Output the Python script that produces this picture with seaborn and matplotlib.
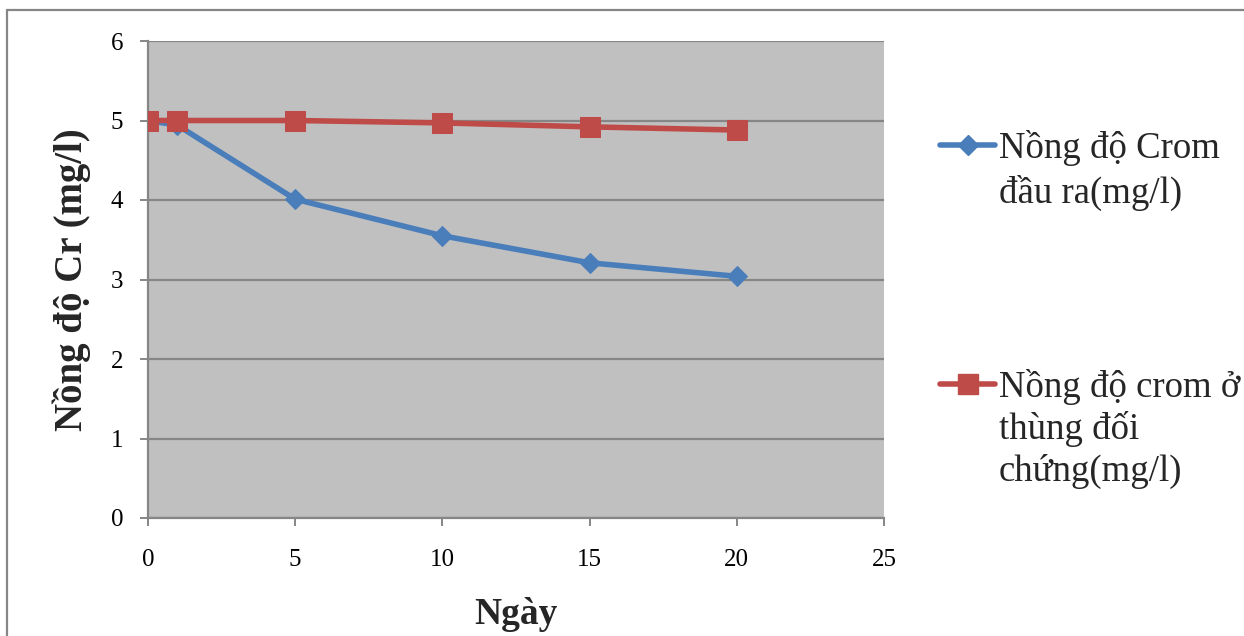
import matplotlib
matplotlib.use("Agg")
import matplotlib.pyplot as plt
from matplotlib.lines import Line2D
import seaborn as sns
import pandas as pd

# ---- data ----
days = [0, 1, 5, 10, 15, 20]
cr_out = [5.0, 4.94, 4.01, 3.55, 3.21, 3.04]
cr_control = [5.0, 5.0, 5.0, 4.97, 4.92, 4.88]
label_out = ["Nồng độ Crom", "đầu ra(mg/l)"]
label_control = ["Nồng độ crom ở", "thùng đối", "chứng(mg/l)"]
x_ticks = [0, 5, 10, 15, 20, 25]
y_ticks = [0, 1, 2, 3, 4, 5, 6]
x_label = "Ngày"
y_label = "Nồng độ Cr (mg/l)"

BLUE = "#4A7EBB"
RED = "#BE4B48"
GRAY = "#868686"
BG = "#C0C0C0"

sns.set_style("white")
plt.rcParams["font.family"] = ["Liberation Serif", "DejaVu Serif"]

W, H = 1244, 636
fig = plt.figure(figsize=(W / 100, H / 100), dpi=100)
ax = fig.add_axes([148 / W, 1 - 518 / H, (884 - 148) / W, (518 - 41) / H])
ax.set_facecolor(BG)

df_out = pd.DataFrame({"day": days, "value": cr_out})
df_ctl = pd.DataFrame({"day": days, "value": cr_control})

sns.lineplot(data=df_out, x="day", y="value", ax=ax, color=BLUE, lw=4,
             marker="D", markersize=10.5, markeredgecolor=BLUE, legend=False,
             zorder=3)
sns.lineplot(data=df_ctl, x="day", y="value", ax=ax, color=RED, lw=4,
             marker="s", markersize=14, markeredgecolor=RED, legend=False,
             zorder=4)

ax.set_xlim(0, 25)
ax.set_ylim(0, 6)
ax.set_xticks(x_ticks)
ax.set_yticks(y_ticks)
ax.yaxis.grid(True, color=GRAY, lw=1.6)
ax.xaxis.grid(False)
ax.set_axisbelow(True)
for s in ["top", "right"]:
    ax.spines[s].set_visible(False)
for s in ["left", "bottom"]:
    ax.spines[s].set_color(GRAY)
    ax.spines[s].set_linewidth(1.6)
ax.tick_params(axis="both", direction="out", length=6, width=1.4, color=GRAY,
               labelsize=18, labelcolor="black")
ax.tick_params(axis="x", bottom=True, pad=16)
ax.tick_params(axis="y", left=True, pad=12)

ax.set_xlabel(x_label, fontsize=27, fontweight="bold")
ax.set_ylabel(y_label, fontsize=28, fontweight="bold")
ax.xaxis.set_label_coords((516 - 148) / (884 - 148), -(615 - 518) / (518 - 41))
ax.yaxis.set_label_coords(-(148 - 72) / (884 - 148), 0.5)
ax.xaxis.label.set_va("center")
ax.yaxis.label.set_va("center")

blank = Line2D([], [], color="none")
h_out = Line2D([], [], color=BLUE, lw=4, marker="D", markersize=10.5,
               markeredgecolor=BLUE)
h_ctl = Line2D([], [], color=RED, lw=4, marker="s", markersize=14,
               markeredgecolor=RED)

common = dict(loc="upper left", bbox_transform=fig.transFigure, frameon=False,
              fontsize=26.5, handlelength=1.5, handletextpad=0.1,
              borderpad=0, borderaxespad=0)
leg1 = fig.legend([h_out, blank], label_out, labelspacing=0.25,
                  bbox_to_anchor=(940 / W, 1 - 130 / H), **common)
leg2 = fig.legend([h_ctl, blank, blank], label_control, labelspacing=0.17,
                  bbox_to_anchor=(940 / W, 1 - 369 / H), **common)

# outer chart border (left and top visible)
fig.add_artist(Line2D([7 / W, 7 / W], [0, 1 - 10 / H], transform=fig.transFigure,
                      color=GRAY, lw=1.6))
fig.add_artist(Line2D([7 / W, 1], [1 - 10 / H, 1 - 10 / H], transform=fig.transFigure,
                      color=GRAY, lw=1.6))

fig.savefig("out.png", dpi=100)
